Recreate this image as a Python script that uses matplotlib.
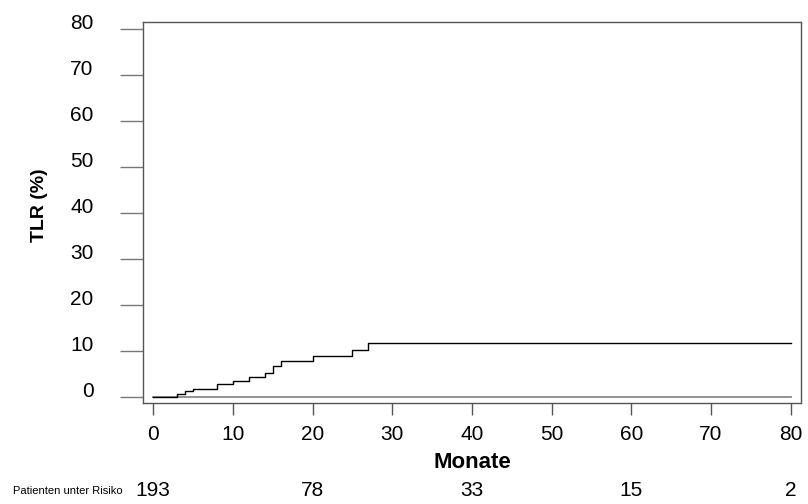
import matplotlib
matplotlib.use("Agg")
from matplotlib import pyplot as plt
from matplotlib.transforms import ScaledTranslation, blended_transform_factory

plt.rcParams['font.family'] = ['Liberation Sans', 'DejaVu Sans']

# KM-style cumulative TLR curve (months, percent)
months = [0, 3, 4, 5, 8, 10, 12, 14, 15, 16, 20, 25, 27, 80]
tlr = [0, 0.5, 1.15, 1.7, 2.75, 3.4, 4.2, 5.15, 6.8, 7.75, 8.85, 10.1, 11.7, 11.7]
# flat grey reference curve
ref_months = [0, 80]
ref_tlr = [0, 0]

xticks = [0, 10, 20, 30, 40, 50, 60, 70, 80]
yticks = [0, 10, 20, 30, 40, 50, 60, 70, 80]
risk_months = [0, 20, 40, 60, 80]
risk_n = ['193', '78', '33', '15', '2']

fig = plt.figure(figsize=(8.08, 5.04), dpi=100)
ax = fig.add_axes([0.177, 0.2004, 0.814, 0.7559])

ax.plot(ref_months, ref_tlr, color='#8a8a8a', lw=1.3)
ax.step(months, tlr, where='post', color='black', lw=1.0)

ax.set_xlim(-1.29, 81.27)
ax.set_ylim(-1.35, 81.46)
ax.set_xticks(xticks)
ax.set_yticks(yticks)
ax.tick_params(axis='x', direction='out', length=8.5, width=1, color='#555555',
               labelsize=15, pad=7)
ax.tick_params(axis='y', direction='out', length=16.5, width=1, color='#777777',
               labelsize=15, pad=19)
# y labels sit a little above their ticks
off = ScaledTranslation(0, 0.075, fig.dpi_scale_trans)
for lab in ax.get_yticklabels():
    lab.set_transform(lab.get_transform() + off)

for s in ax.spines.values():
    s.set_color('#555555')
    s.set_linewidth(1.0)

fig.text(40 / 808, 1 - 205 / 504, 'TLR (%)', rotation=90, ha='center', va='center',
         fontsize=14, fontweight='bold')
fig.text(472 / 808, 1 - 462 / 504, 'Monate', ha='center', va='center',
         fontsize=16, fontweight='bold')

trans = blended_transform_factory(ax.transData, fig.transFigure)
for m, n in zip(risk_months, risk_n):
    ax.text(m, 1 - 491 / 504, n, transform=trans, ha='center', va='center',
            fontsize=15, clip_on=False)
fig.text(12.7 / 808, 1 - 491 / 504, 'Patienten unter Risiko', ha='left',
         va='center', fontsize=8)

plt.savefig('out.png', dpi=100)
